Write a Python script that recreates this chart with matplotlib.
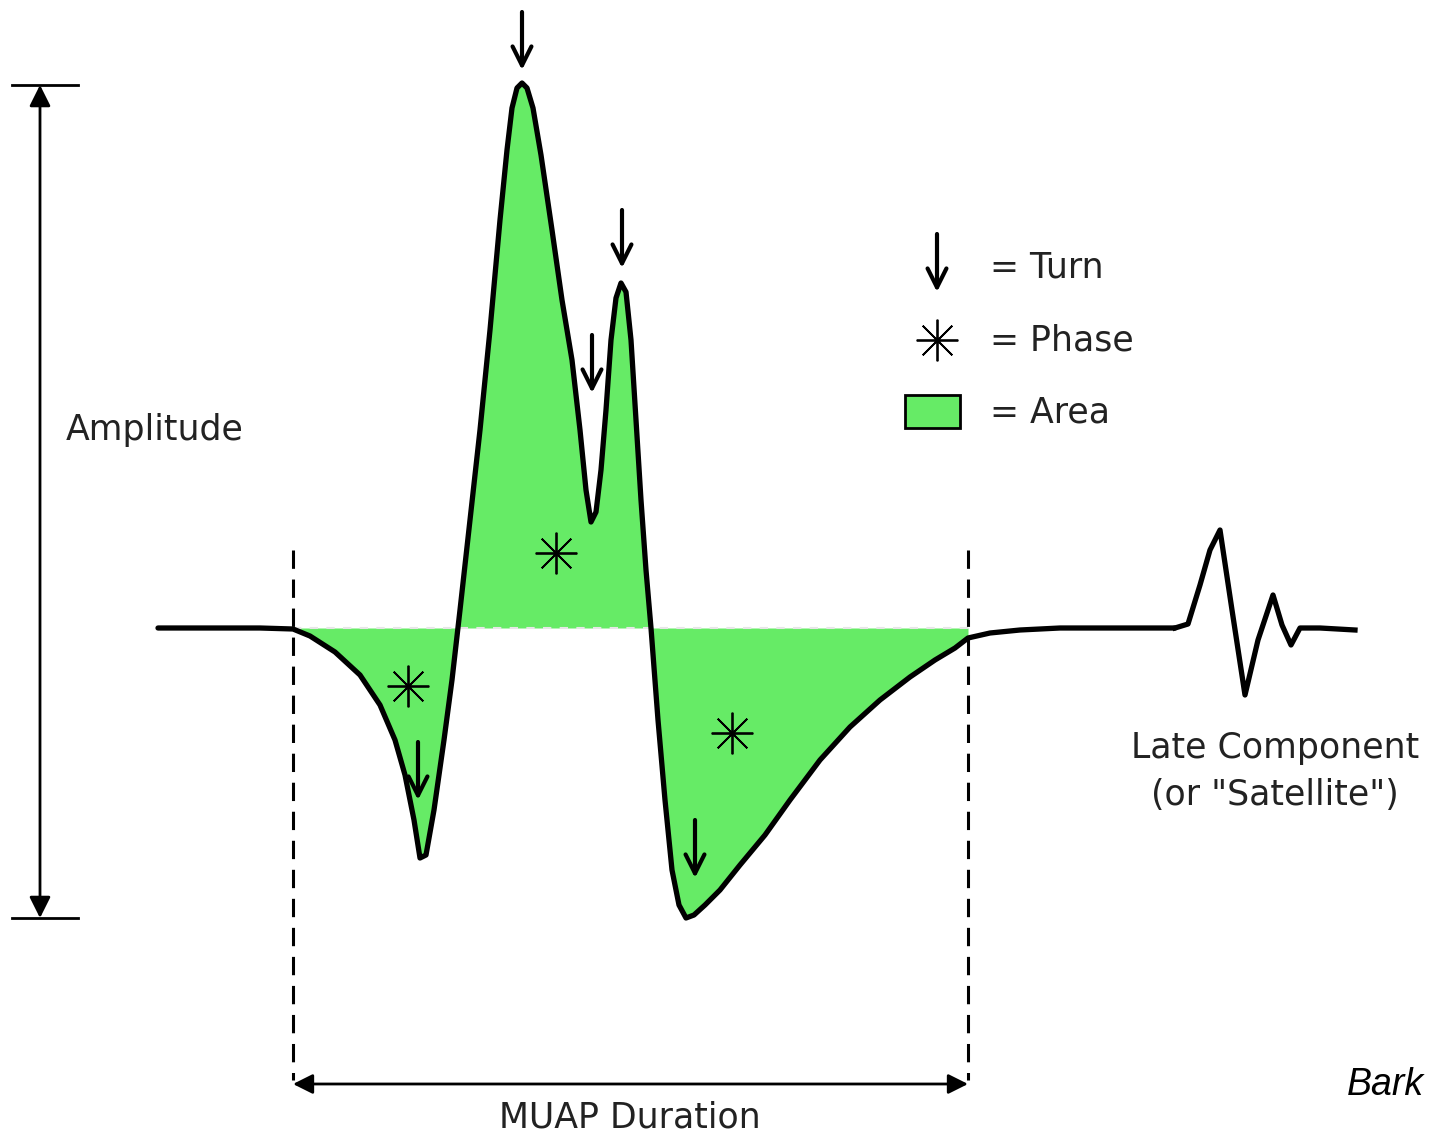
import numpy as np
import matplotlib.pyplot as plt

# waveform trace (pixel coords, y grows down)
trace_x = [158, 200, 260, 293, 310, 335, 360, 380, 395, 405, 414, 420, 426, 434, 444, 452, 460,
           470, 480, 490, 500, 507, 512, 517, 522, 527, 533, 541, 552, 562, 572, 580, 586, 591, 596, 601,
           606, 611, 616, 621, 626, 631, 636, 641, 646, 651, 658, 665, 672, 679, 686, 694, 705,
           720, 740, 765, 790, 820, 850, 880, 910, 935, 955, 968, 990, 1020, 1060, 1110, 1150, 1175]
trace_y = [628, 628, 628, 629, 636, 652, 675, 705, 740, 775, 820, 858, 855, 810, 740, 680, 610,
           520, 430, 330, 220, 150, 108, 88, 83, 88, 108, 155, 230, 300, 360, 430, 490, 522, 512, 470,
           410, 340, 298, 283, 292, 340, 420, 500, 570, 628, 720, 800, 870, 905, 918, 915, 905,
           890, 865, 835, 800, 760, 727, 700, 677, 660, 648, 638, 633, 630, 628, 628, 628, 628]
satellite_x = [1175, 1188, 1200, 1210, 1220, 1232, 1245, 1258, 1273, 1282, 1291, 1300, 1320, 1355]
satellite_y = [628, 624, 585, 550, 530, 610, 695, 640, 595, 625, 645, 628, 628, 630]

baseline = 628
duration = [293, 968]
amplitude = [85, 918]

turn_marks = [(522, 70), (622, 268), (592, 393), (418, 800), (695, 878)]
phase_marks = [(408, 686), (556, 553), (732, 733)]

green = '#66EB66'
fs = 25

fig = plt.figure(figsize=(14.29, 11.38), dpi=100)
ax = fig.add_axes([0, 0, 1, 1])
ax.set_xlim(0, 1429)
ax.set_ylim(1138, 0)
ax.axis('off')

tx = np.array(trace_x)
ty = np.array(trace_y)
m = (tx >= duration[0]) & (tx <= duration[1])
ax.fill_between(tx[m], ty[m], baseline, color=green, lw=0, zorder=1)
ax.plot([duration[0], duration[1]], [baseline, baseline], color='#e6e6e6', lw=1.5,
        ls=(0, (4, 4)), zorder=2)
ax.plot(trace_x, trace_y, color='black', lw=3.8, solid_joinstyle='round',
        solid_capstyle='round', zorder=3)
ax.plot(satellite_x, satellite_y, color='black', lw=3.8, solid_joinstyle='round', zorder=3)

# duration limits
for xd in duration:
    ax.plot([xd, xd], [550, 1080], color='black', lw=2.2, ls=(0, (6, 3.5)), zorder=2)
ax.annotate('', xy=(duration[0], 1084), xytext=(duration[1], 1084),
            arrowprops=dict(arrowstyle='<|-|>', color='black', lw=2,
                            mutation_scale=30, shrinkA=0, shrinkB=0))
ax.text(630, 1118, 'MUAP Duration', ha='center', va='center', fontsize=fs, color='#222222')

# amplitude
for ya in amplitude:
    ax.plot([12, 78], [ya, ya], color='black', lw=2)
ax.annotate('', xy=(40, amplitude[0]), xytext=(40, amplitude[1]),
            arrowprops=dict(arrowstyle='<|-|>', color='black', lw=2,
                            mutation_scale=32, shrinkA=0, shrinkB=0))
ax.text(66, 430, 'Amplitude', ha='left', va='center', fontsize=fs, color='#222222')

# turns and phases
def turn(x, y):
    ax.annotate('', xy=(x, y), xytext=(x, y - 58),
                arrowprops=dict(arrowstyle='->', color='black', lw=3,
                                mutation_scale=34, shrinkA=0, shrinkB=0), zorder=4)

for x, y in turn_marks:
    turn(x, y)
for x, y in phase_marks:
    ax.plot(x, y, marker=(8, 2, 0), ms=30, mew=1.3, color='black', zorder=4)

# legend
turn(937, 292)
ax.plot(937, 340, marker=(8, 2, 0), ms=30, mew=1.3, color='black')
ax.add_patch(plt.Rectangle((905, 395), 55, 33, facecolor=green, edgecolor='black', lw=2))
ax.text(990, 267, '= Turn', ha='left', va='center', fontsize=fs, color='#222222')
ax.text(990, 340, '= Phase', ha='left', va='center', fontsize=fs, color='#222222')
ax.text(990, 412, '= Area', ha='left', va='center', fontsize=fs, color='#222222')

ax.text(1275, 748, 'Late Component', ha='center', va='center', fontsize=fs, color='#222222')
ax.text(1275, 795, '(or "Satellite")', ha='center', va='center', fontsize=fs, color='#222222')
# credit sits against the right edge
ax.text(1424, 1085, 'Bark', ha='right', va='center', fontsize=27, style='italic',
        family='Liberation Sans', color='black')

fig.savefig('out.png', dpi=100, facecolor='white')
